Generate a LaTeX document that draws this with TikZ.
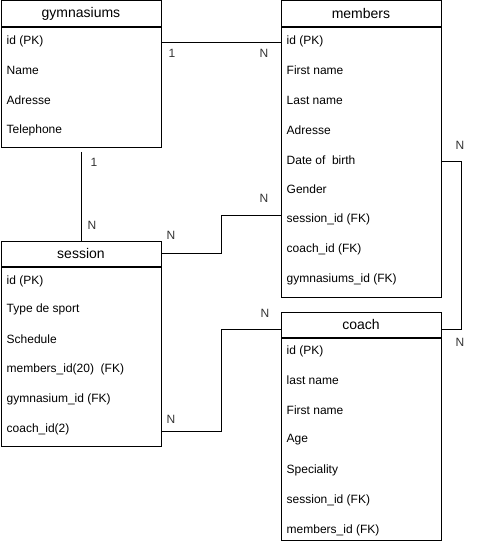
\documentclass[tikz,border=0pt]{standalone}
\usepackage{fontspec}
\setmainfont{Liberation Sans}
\usepackage{tikz}
\usetikzlibrary{positioning}

\tikzset{
  entityhead/.style={draw, line width=0.9pt, anchor=north west, minimum width=160,
    minimum height=25.5, inner sep=0pt, font=\fontsize{14}{16}\selectfont},
  entitybody/.style={draw, line width=0.9pt, anchor=north west, minimum width=160, inner sep=0pt},
  attr/.style={anchor=west, inner sep=0pt, font=\fontsize{12}{14}\selectfont},
  card/.style={inner sep=0pt, font=\fontsize{12}{14}\selectfont, text=black!80},
  rel/.style={line width=0.9pt}
}

\begin{document}
\begin{tikzpicture}[x=1pt,y=-1pt]
  \useasboundingbox (0,0) rectangle (491,551);

  % gymnasiums
  \node[entityhead] (gym) at (0.5,0.5) {gymnasiums};
  \node[entitybody, minimum height=120] (gymbody) at (gym.south west) {};
  \node[attr] (gymid) at (6.5,41) {id (PK)};
  \node[attr] (gymname) at (6.5,70) {Name};
  \node[attr] (gymaddr) at (6.5,100) {Adresse};
  \node[attr] (gymtel) at (6.5,130) {Telephone};

  % members
  \node[entityhead] (mem) at (280.5,0.5) {members};
  \node[entitybody, minimum height=270] (membody) at (mem.south west) {};
  \node[attr] (memid) at (286.5,41) {id (PK)};
  \node[attr] (memfirst) at (286.5,70) {First name};
  \node[attr] (memlast) at (286.5,100) {Last name};
  \node[attr] (memaddr) at (286.5,130) {Adresse};
  \node[attr] (memdob) at (286.5,160) {Date of\ \ birth};
  \node[attr] (memgender) at (286.5,189) {Gender};
  \node[attr] (memsess) at (286.5,219) {session\_id (FK)};
  \node[attr] (memcoach) at (286.5,249) {coach\_id (FK)};
  \node[attr] (memgym) at (286.5,279) {gymnasiums\_id (FK)};

  % session
  \node[entityhead] (sess) at (0.5,240.5) {session};
  \node[entitybody, minimum height=179.5] (sessbody) at (sess.south west) {};
  \node[attr] (sessid) at (6.5,281) {id (PK)};
  \node[attr] (sesstype) at (6.5,309) {Type de sport};
  \node[attr] (sesssched) at (6.5,339) {Schedule};
  \node[attr] (sessmem) at (6.5,369) {members\_id(20)\ \ (FK)};
  \node[attr] (sessgym) at (6.5,399) {gymnasium\_id (FK)};
  \node[attr] (sesscoach) at (6.5,429) {coach\_id(2)};

  % coach
  \node[entityhead] (coach) at (280.5,311.5) {coach};
  \node[entitybody, minimum height=202.5] (coachbody) at (coach.south west) {};
  \node[attr] (coachid) at (286.5,351) {id (PK)};
  \node[attr] (coachlast) at (286.5,380) {last name};
  \node[attr] (coachfirst) at (286.5,410) {First name};
  \node[attr] (coachage) at (286.5,440) {Age};
  \node[attr] (coachspec) at (286.5,470) {Speciality};
  \node[attr] (coachsess) at (286.5,500) {session\_id (FK)};
  \node[attr] (coachmem) at (286.5,530) {members\_id (FK)};

  % relations
  \draw[rel] ([yshift=-1.5]gymbody.east |- gymid) -- ([yshift=-1.5]membody.west |- gymid);
  \draw[rel] ([yshift=-4]gymbody.south) -- (sess.north);
  \draw[rel] (sess.east) -- ++(60,0) |- ([yshift=4]membody.west |- memsess);
  \draw[rel] ([yshift=-2]sessbody.east |- sesscoach) -- ++(60,0) |- ([yshift=-5]coach.west);
  \draw[rel] ([yshift=-1.5]membody.east |- memdob) -- ++(20,0) |- ([yshift=-4.5]coach.east);

  % cardinalities
  \node[card] (c1) at (172,53) {1};
  \node[card] (c2) at (264,53) {N};
  \node[card] (c3) at (94,162) {1};
  \node[card] (c4) at (92,225) {N};
  \node[card] (c5) at (171,235) {N};
  \node[card] (c6) at (264,198) {N};
  \node[card] (c7) at (171,419) {N};
  \node[card] (c8) at (265,313) {N};
  \node[card] (c9) at (460,145) {N};
  \node[card] (c10) at (460,342) {N};
\end{tikzpicture}
\end{document}
